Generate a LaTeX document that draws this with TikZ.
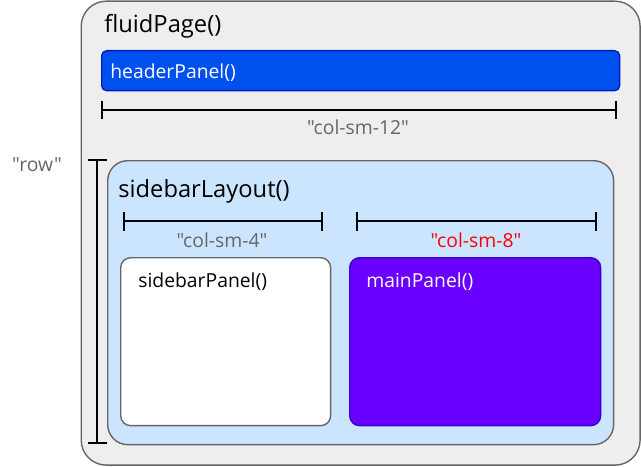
\documentclass[tikz,border=0pt]{standalone}
\usepackage{fontspec}
\setmainfont{Open Sans}[Ligatures=TeXOff]
\usepackage{xcolor}
\usepackage{tikz}
\usetikzlibrary{arrows.meta}
\definecolor{pagegray}{HTML}{EEEEEE}
\definecolor{framegray}{HTML}{666666}
\definecolor{headerblue}{HTML}{0050EF}
\definecolor{headerline}{HTML}{001DBC}
\definecolor{layoutblue}{HTML}{CCE5FF}
\definecolor{mainviolet}{HTML}{6A00FF}
\definecolor{mainline}{HTML}{3700CC}
\definecolor{textgray}{HTML}{666666}

\begin{document}
\begin{tikzpicture}[x=0.02cm, y=-0.02cm]
      \tikzstyle{box} = [draw=framegray, thick, anchor=north west, inner sep=0pt]
      \tikzstyle{title} = [anchor=base west, inner sep=0pt, font=\fontsize{13.5}{16}\selectfont]
      \tikzstyle{label} = [anchor=base west, inner sep=0pt, font=\fontsize{11}{13}\selectfont]
      \tikzstyle{span} = [inner sep=0pt, text=textgray, font=\fontsize{11}{13}\selectfont]
      \tikzstyle{dim} = [{Bar[width=0.38cm]}-{Bar[width=0.38cm]}, line width=1.1pt]
      \useasboundingbox (0,0) rectangle (641,466);
      % containers
      \node[box, fill=pagegray, rounded corners=0.5cm, minimum width=11.18cm, minimum height=9.28cm] (page) at (80.5,0.5) {};
      \node[box, draw=headerline, fill=headerblue, rounded corners=0.1cm, minimum width=10.36cm, minimum height=0.8cm] (header) at (101,50) {};
      \node[box, fill=layoutblue, rounded corners=0.4cm, minimum width=10.12cm, minimum height=5.68cm] (layout) at (107,160) {};
      \node[box, fill=white, rounded corners=0.2cm, minimum width=4.2cm, minimum height=3.36cm] (sidebar) at (120,257) {};
      \node[box, draw=mainline, fill=mainviolet, rounded corners=0.2cm, minimum width=5.02cm, minimum height=3.36cm] (main) at (349,257) {};
      % titles
      \node[title] (pagetitle) at (104,33) {fluidPage()};
      \node[label, text=white] (headertitle) at (110,78) {headerPanel()};
      \node[title] (layouttitle) at (118,197) {sidebarLayout()};
      \node[label] (sidebartitle) at (138,287) {sidebarPanel()};
      \node[label, text=white] (maintitle) at (366,287) {mainPanel()};
      % column widths
      \coordinate (w12a) at (101,110);
      \coordinate (w12b) at (617,110);
      \coordinate (w4a) at (123,221);
      \coordinate (w4b) at (323,221);
      \coordinate (w8a) at (356,221);
      \coordinate (w8b) at (597,221);
      \coordinate (rowa) at (97,159);
      \coordinate (rowb) at (97,444);
      \draw[dim] (w12a) -- (w12b);
      \draw[dim] (w4a) -- (w4b);
      \draw[dim] (w8a) -- (w8b);
      \draw[dim] (rowa) -- (rowb);
      \node[span] (col12) at (358,127) {"col-sm-12"};
      \node[span] (col4) at (222,240) {"col-sm-4"};
      \node[span, text=red] (col8) at (476,240) {"col-sm-8"};
      \node[span] (row) at (37,165) {"row"};
    \end{tikzpicture}
\end{document}
